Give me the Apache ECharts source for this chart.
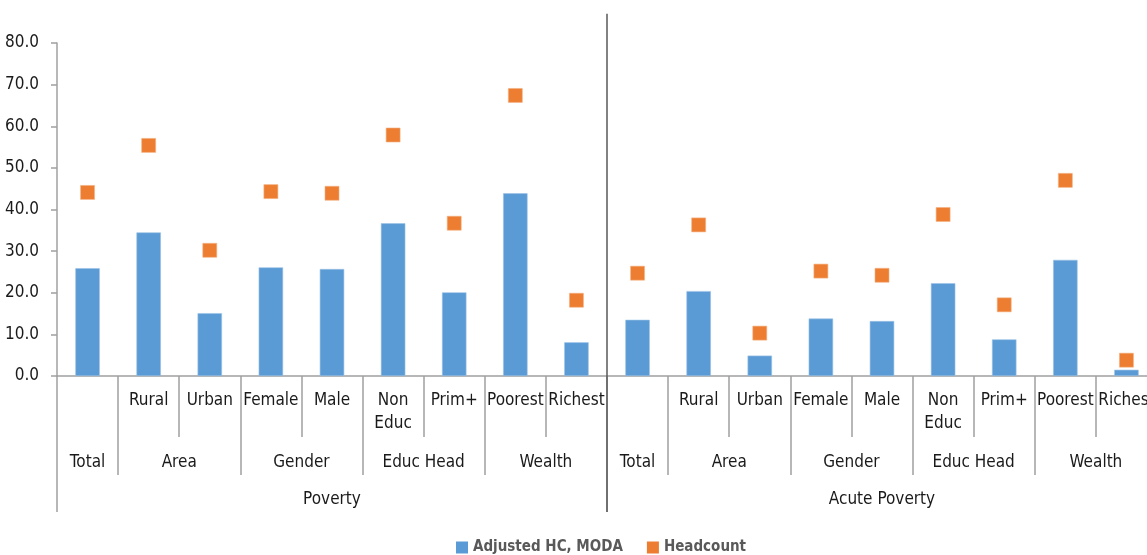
<!DOCTYPE html>
<html>
<head>
<meta charset="utf-8">
<script src="https://cdn.jsdelivr.net/npm/echarts@6/dist/echarts.min.js"></script>
<style>
  html, body { margin: 0; padding: 0; background: #fff; }
  #main { width: 1147px; height: 555px; }
</style>
</head>
<body>
<div id="main"></div>
<script>
var FONT = "'Liberation Sans Narrow', 'DejaVu Sans Condensed', 'Roboto Condensed', sans-serif";

// level 1: one entry per bar
var subLabels = ["", "Rural", "Urban", "Female", "Male", "Non\nEduc", "Prim+", "Poorest", "Richest",
                 "", "Rural", "Urban", "Female", "Male", "Non\nEduc", "Prim+", "Poorest", "Richest"];
// level 2 groups and their sizes (in bars)
var groupNames = ["Total", "Area", "Gender", "Educ Head", "Wealth", "Total", "Area", "Gender", "Educ Head", "Wealth"];
var groupSizes = [1, 2, 2, 2, 2, 1, 2, 2, 2, 2];
// level 3
var topNames = ["Poverty", "Acute Poverty"];
var topSizes = [9, 9];

var adjustedHC = [25.9, 34.5, 15.1, 26.1, 25.7, 36.7, 20.1, 43.9, 8.1,
                  13.5, 20.4, 4.9, 13.8, 13.2, 22.3, 8.8, 27.9, 1.5];
var headcount = [44.1, 55.4, 30.2, 44.3, 43.9, 57.9, 36.7, 67.4, 18.2,
                 24.7, 36.3, 10.3, 25.2, 24.2, 38.8, 17.1, 47.0, 3.8];

// build half-slot point lists for the group axes (boundaryGap false, 2 points per bar)
function buildLevel(names, sizes) {
  var n = subLabels.length * 2 + 1;
  var data = [];
  for (var i = 0; i < n; i++) data.push("");
  var ticks = {0: true};
  var pos = 0;
  names.forEach(function (name, k) {
    var span = sizes[k] * 2;
    data[pos + span / 2] = name;
    pos += span;
    ticks[pos] = true;
  });
  return { data: data, ticks: ticks };
}
var lvl2 = buildLevel(groupNames, groupSizes);
var lvl3 = buildLevel(topNames, topSizes);

var chartDom = document.getElementById("main");
var myChart = echarts.init(chartDom);
var option;

var labelStyle = { color: "#1a1a1a", fontSize: 17, fontFamily: FONT };

option = {
  animation: false,
  // plot runs past the right edge, as in the original
  grid: { left: 57, right: -10, top: 43, bottom: 179, containLabel: false, outerBoundsMode: "none" },
  legend: {
    left: 451,
    top: 535,
    itemWidth: 12,
    itemHeight: 12,
    itemGap: 24,
    icon: "rect",
    itemStyle: { borderWidth: 0 },
    textStyle: { color: "#595959", fontSize: 15, fontWeight: "bold", fontFamily: FONT },
    data: ["Adjusted HC, MODA", "Headcount"]
  },
  xAxis: [
    {
      type: "category",
      data: subLabels,
      axisLine: { lineStyle: { color: "#a0a0a0", width: 1.5 } },
      axisTick: { show: true, interval: 0, length: 61, lineStyle: { color: "#a0a0a0", width: 1.5 } },
      axisLabel: Object.assign({ interval: 0, margin: 13, lineHeight: 23 }, labelStyle)
    },
    {
      type: "category",
      position: "bottom",
      offset: 61,
      boundaryGap: false,
      data: lvl2.data,
      axisLine: { show: false },
      axisTick: {
        show: true, length: 38,
        interval: function (i) { return !!lvl2.ticks[i]; },
        lineStyle: { color: "#a0a0a0", width: 1.5 }
      },
      axisLabel: Object.assign({ interval: function (i, v) { return v !== ""; }, margin: 17 }, labelStyle)
    },
    {
      type: "category",
      position: "bottom",
      offset: 99,
      boundaryGap: false,
      data: lvl3.data,
      axisLine: { show: false },
      axisTick: {
        show: true, length: 37,
        interval: function (i) { return !!lvl3.ticks[i]; },
        lineStyle: { color: "#a0a0a0", width: 1.5 }
      },
      axisLabel: Object.assign({ interval: function (i, v) { return v !== ""; }, margin: 16 }, labelStyle)
    }
  ],
  yAxis: {
    type: "value",
    min: 0,
    max: 80,
    interval: 10,
    splitLine: { show: false },
    axisLine: { show: true, lineStyle: { color: "#a0a0a0", width: 1.5 } },
    axisTick: { show: true, length: 6, lineStyle: { color: "#a0a0a0", width: 1.5 } },
    axisLabel: Object.assign({ margin: 18, formatter: function (v) { return v.toFixed(1); } }, labelStyle)
  },
  series: [
    {
      name: "Adjusted HC, MODA",
      type: "bar",
      barWidth: "40%",
      data: adjustedHC,
      itemStyle: { color: "#5b9bd5", borderColor: "#9cc3e6", borderWidth: 0.6 }
    },
    {
      name: "Headcount",
      type: "scatter",
      symbol: "rect",
      symbolSize: 14,
      data: headcount,
      itemStyle: { color: "#ed7d31", borderColor: "#f4b183", borderWidth: 0.6, opacity: 1 }
    }
  ]
};

option && myChart.setOption(option);

// vertical separator between the two halves, from above the plot down to the bottom tier
var sepX = myChart.convertToPixel({ xAxisIndex: 2 }, subLabels.length);
var sepTop = myChart.convertToPixel({ yAxisIndex: 0 }, 87);
var sepBottom = myChart.convertToPixel({ yAxisIndex: 0 }, 0) + 136;
myChart.setOption({
  graphic: [{
    type: "line",
    shape: { x1: sepX, y1: sepTop, x2: sepX, y2: sepBottom },
    style: { stroke: "#595959", lineWidth: 1.5 },
    z: 10
  }]
});
</script>
</body>
</html>
